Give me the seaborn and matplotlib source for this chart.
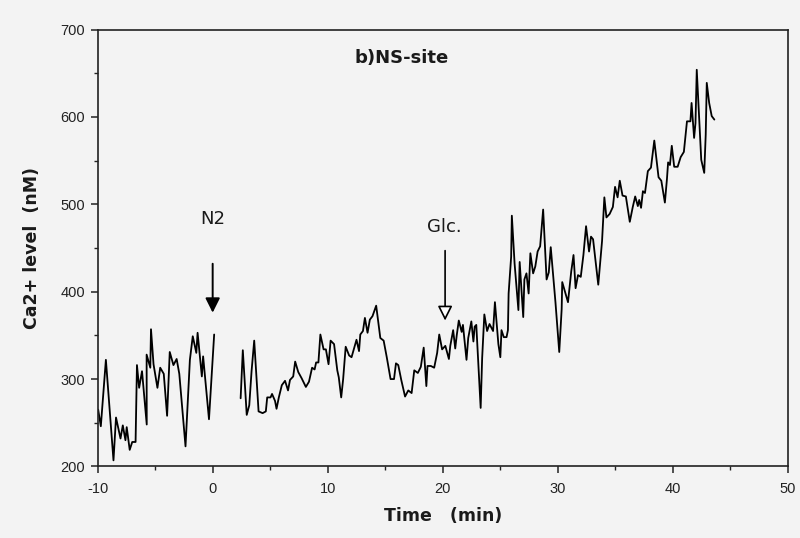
import matplotlib
matplotlib.use("Agg")
import matplotlib.pyplot as plt
import seaborn as sns
import pandas as pd

# ---- data ----
time_pre = [-9.95, -9.72, -9.28, -8.62, -8.40, -8.01, -7.81, -7.58, -7.47, -7.21,
            -6.99, -6.70, -6.58, -6.39, -6.14, -5.73, -5.74, -5.42, -5.36, -5.14,
            -4.80, -4.56, -4.25, -3.96, -3.73, -3.41, -3.13, -2.90, -2.36, -1.98,
            -1.73, -1.42, -1.31, -0.94, -0.83, -0.32, 0.13]
ca_pre = [265, 246, 322, 207, 256, 232, 247, 230, 245, 219,
          228, 228, 316, 290, 309, 248, 328, 313, 357, 317,
          290, 313, 306, 258, 331, 316, 323, 306, 223, 322,
          349, 330, 353, 303, 326, 254, 351]

time_post = [2.43, 2.62, 2.96, 3.18, 3.38, 3.61, 3.99, 4.34, 4.62, 4.74,
             5.03, 5.16, 5.42, 5.55, 5.75, 6.01, 6.29, 6.55, 6.72, 7.00,
             7.17, 7.44, 7.73, 8.10, 8.37, 8.64, 8.86, 8.99, 9.19, 9.36,
             9.64, 9.84, 10.07, 10.25, 10.55, 10.83, 10.96, 11.17, 11.34, 11.56,
             11.86, 12.07, 12.28, 12.50, 12.72, 12.83, 13.06, 13.23, 13.46, 13.66,
             13.89, 14.21, 14.57, 14.86, 15.13, 15.46, 15.76, 15.93, 16.13, 16.39,
             16.72, 17.00, 17.29, 17.52, 17.83, 18.09, 18.34, 18.57, 18.67, 18.96,
             19.25, 19.51, 19.69, 19.94, 20.22, 20.53, 20.65, 20.90, 21.08, 21.21,
             21.39, 21.64, 21.75, 22.06, 22.21, 22.48, 22.66, 22.77, 22.91, 23.29,
             23.42, 23.61, 23.85, 24.06, 24.37, 24.53, 24.83, 25.00, 25.10, 25.30,
             25.54, 25.66, 25.72, 25.94, 26.00, 26.24, 26.57, 26.68, 26.99, 27.09,
             27.27, 27.46, 27.61, 27.85, 28.04, 28.24, 28.46, 28.72, 29.02, 29.21,
             29.38, 29.79, 30.12, 30.33, 30.38, 30.88, 31.16, 31.36, 31.54, 31.75,
             31.99, 32.22, 32.45, 32.71, 32.88, 33.06, 33.51, 33.84, 34.04, 34.22,
             34.50, 34.78, 34.97, 35.19, 35.38, 35.62, 35.91, 36.25, 36.51, 36.72,
             36.95, 37.07, 37.23, 37.39, 37.57, 37.82, 38.09, 38.38, 38.75, 38.99,
             39.30, 39.48, 39.58, 39.74, 39.90, 40.11, 40.41, 40.67, 40.95, 41.22,
             41.52, 41.62, 41.84, 41.96, 42.07, 42.46, 42.72, 42.85, 42.94, 43.15,
             43.37, 43.60]
ca_post = [278, 333, 259, 270, 309, 344, 263, 261, 263, 279,
           279, 283, 275, 266, 279, 293, 298, 287, 299, 303,
           320, 308, 301, 291, 297, 313, 311, 319, 319, 351,
           334, 334, 317, 344, 340, 310, 302, 279, 300, 337,
           327, 325, 335, 345, 332, 351, 355, 370, 353, 368,
           372, 384, 347, 344, 325, 300, 300, 318, 316, 299,
           280, 287, 284, 310, 307, 314, 336, 292, 315, 315,
           313, 330, 351, 334, 338, 323, 338, 356, 335, 350,
           367, 354, 362, 322, 347, 366, 343, 360, 362, 267,
           324, 374, 355, 363, 355, 388, 340, 325, 356, 348,
           348, 356, 398, 440, 487, 432, 379, 434, 371, 414,
           421, 398, 444, 421, 429, 446, 452, 494, 414, 422,
           451, 388, 331, 380, 411, 388, 423, 442, 404, 419,
           417, 442, 475, 446, 463, 460, 408, 458, 508, 485,
           489, 497, 520, 508, 527, 510, 509, 480, 497, 509,
           498, 505, 496, 515, 513, 538, 542, 573, 531, 527,
           502, 529, 548, 545, 567, 543, 543, 554, 560, 595,
           595, 616, 576, 593, 654, 551, 536, 580, 639, 616,
           601, 597]

x_ticks = [-10, 0, 10, 20, 30, 40, 50]
y_ticks = [200, 300, 400, 500, 600, 700]

n2_time, n2_from, n2_to = 0.0, 432, 376
glc_time, glc_from, glc_to = 20.2, 447, 367

df = pd.concat([
    pd.DataFrame({"time": time_pre, "ca": ca_pre, "segment": 0}),
    pd.DataFrame({"time": time_post, "ca": ca_post, "segment": 1}),
], ignore_index=True)

sns.set_style("ticks")
plt.rcParams["font.family"] = ["Liberation Sans", "DejaVu Sans"]
wide = ["DejaVu Sans"]

bg = "#f3f3f3"
ink = "#1a1a1a"
fig = plt.figure(figsize=(8, 5.38), dpi=100, facecolor=bg)
ax = fig.add_axes([0.122, 0.133, 0.863, 0.812])
ax.set_facecolor(bg)

sns.lineplot(data=df, x="time", y="ca", units="segment", estimator=None,
             sort=False, color="black", linewidth=1.3, ax=ax)

ax.set_xlim(-10, 50)
ax.set_ylim(200, 700)
ax.set_xticks(x_ticks)
ax.set_xticklabels(["-10" if t < 0 else str(t) for t in x_ticks])
ax.set_xticks([-5, 5, 15, 25, 35, 45], minor=True)
ax.set_yticks(y_ticks)
ax.set_yticks([250, 350, 450, 550, 650], minor=True)

for s in ax.spines.values():
    s.set_visible(True)
    s.set_linewidth(1.2)
    s.set_color("#222222")
ax.tick_params(axis="both", which="major", length=5, width=1.1,
               direction="out", labelsize=10.5, colors="#222222", pad=4)
ax.tick_params(axis="both", which="minor", length=3, width=1.0,
               direction="out", colors="#222222")
ax.tick_params(axis="x", which="major", pad=6)

ax.set_xlabel("Time   (min)", fontsize=12.5, fontweight="bold", labelpad=8,
              color=ink, family=wide)
ax.set_ylabel("Ca2+ level  (nM)", fontsize=12.5, fontweight="bold", labelpad=14,
              color=ink, family=wide)

ax.text(16.4, 667, "b)NS-site", ha="center", va="center", fontsize=13,
        fontweight="bold", color=ink, family=wide)

ax.text(n2_time, 483, "N2", ha="center", va="center", fontsize=13, color=ink,
        family=wide)
ax.annotate("", xy=(n2_time, n2_to), xytext=(n2_time, n2_from),
            arrowprops=dict(arrowstyle="-|>", color="black", lw=1.4,
                            mutation_scale=22, shrinkA=0, shrinkB=0))

ax.text(glc_time - 0.1, 474, "Glc.", ha="center", va="center", fontsize=13,
        color=ink, family=wide)
ax.annotate("", xy=(glc_time, glc_to), xytext=(glc_time, glc_from),
            arrowprops=dict(arrowstyle="-|>", facecolor="white", edgecolor="black",
                            lw=1.2, mutation_scale=22, shrinkA=0, shrinkB=0))

fig.savefig("out.png", dpi=100, facecolor=bg)
